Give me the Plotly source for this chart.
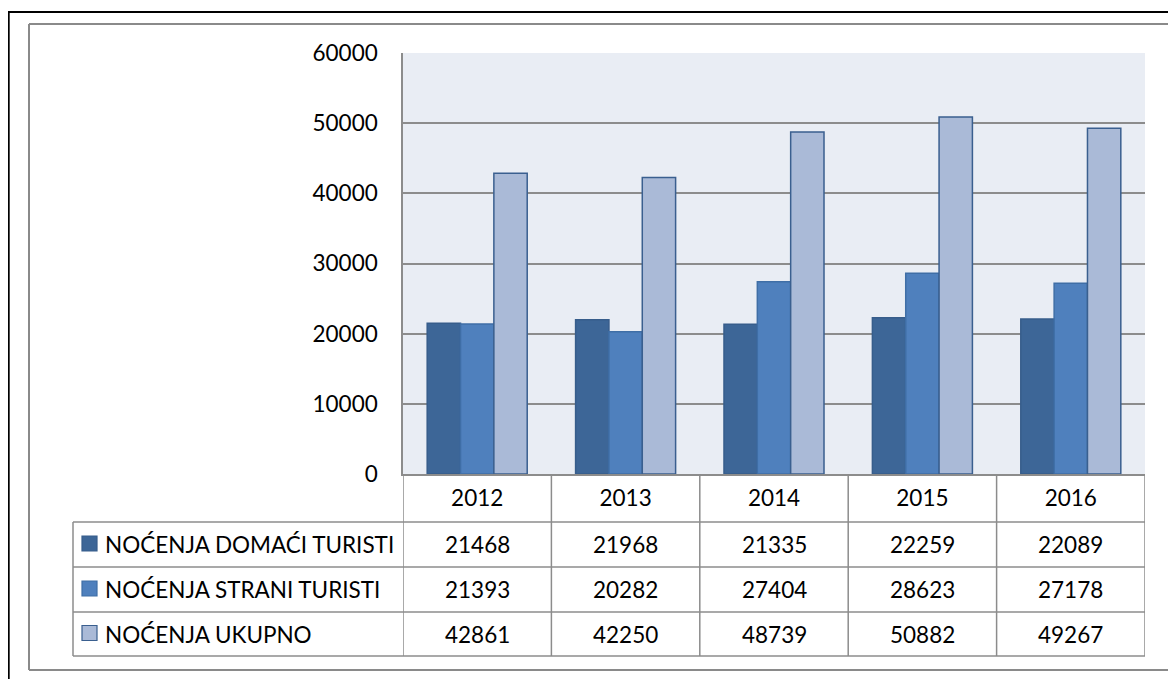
import plotly.graph_objects as go

# ---------------- data ----------------
years = ["2012", "2013", "2014", "2015", "2016"]
series_names = ["NOĆENJA DOMAĆI TURISTI", "NOĆENJA STRANI TURISTI", "NOĆENJA UKUPNO"]
domaci = [21468, 21968, 21335, 22259, 22089]
strani = [21393, 20282, 27404, 28623, 27178]
ukupno = [42861, 42250, 48739, 50882, 49267]
y_ticks = [0, 10000, 20000, 30000, 40000, 50000, 60000]

series_values = [domaci, strani, ukupno]
fill_colors = ["#3d6697", "#4f80bd", "#aabad7"]
edge_colors = ["#375d8b", "#3f6ea6", "#3a5f8f"]

# the page body has an 8px margin; the figure is sized to fill the rest of the window
OFF = 8
W, H = 1176 - OFF, 679 - OFF
FONT = "Lato"
FS = 22.5
GRID = "#8c8c8c"

# helpers: window pixel -> paper fraction
def fx(px):
    return (px - OFF) / W

def fy(py):
    return 1 - (py - OFF) / H

PLOT_L, PLOT_R, PLOT_T, PLOT_B = 403, 1145, 53, 474
ROW_LINES = [522, 567, 612, 656]
TABLE_L = 73

fig = go.Figure()
for name, vals, fc, ec in zip(series_names, series_values, fill_colors, edge_colors):
    fig.add_trace(go.Bar(
        x=years, y=vals, name=name,
        marker=dict(color=fc, line=dict(color=ec, width=1.5)),
        showlegend=False,
    ))

shapes = []
annotations = []

# outer borders
shapes.append(dict(type="line", xref="paper", yref="paper", x0=fx(8.6), x1=fx(1180), y0=fy(12), y1=fy(12),
                   line=dict(color="black", width=2.2)))
shapes.append(dict(type="line", xref="paper", yref="paper", x0=fx(8.6), x1=fx(8.6), y0=fy(11), y1=fy(685),
                   line=dict(color="black", width=2.2)))
for (x0, y0, x1, y1) in [(29, 24, 1170, 24), (29, 24, 29, 670), (29, 670, 1170, 670)]:
    shapes.append(dict(type="line", xref="paper", yref="paper", x0=fx(x0), x1=fx(x1), y0=fy(y0), y1=fy(y1),
                       line=dict(color="#8a8a8a", width=2)))

# data table horizontal lines
for ry in ROW_LINES:
    shapes.append(dict(type="line", xref="paper", yref="paper", x0=fx(TABLE_L), x1=fx(PLOT_R), y0=fy(ry), y1=fy(ry),
                       line=dict(color=GRID, width=1.5)))
# table vertical lines (category boundaries through the axis scale)
for i in range(len(years) + 1):
    shapes.append(dict(type="line", xref="x", yref="paper", x0=i - 0.5, x1=i - 0.5,
                       y0=fy(PLOT_B), y1=fy(ROW_LINES[-1]), line=dict(color=GRID, width=1.5)))
shapes.append(dict(type="line", xref="paper", yref="paper", x0=fx(TABLE_L), x1=fx(TABLE_L),
                   y0=fy(ROW_LINES[0]), y1=fy(ROW_LINES[-1]), line=dict(color=GRID, width=1.5)))

# legend keys + names + values
for r, (name, vals, fc, ec) in enumerate(zip(series_names, series_values, fill_colors, edge_colors)):
    top, bot = ROW_LINES[r], ROW_LINES[r + 1]
    cy = (top + bot) / 2
    shapes.append(dict(type="rect", xref="paper", yref="paper", x0=fx(82), x1=fx(97),
                       y0=fy(cy - 8.5), y1=fy(cy + 6.5), fillcolor=fc, line=dict(color=ec, width=1.2)))
    annotations.append(dict(xref="paper", yref="paper", x=fx(103), y=fy(cy), text=name, showarrow=False,
                            xanchor="left", yanchor="middle", font=dict(family=FONT, size=FS, color="black")))
    for i, v in enumerate(vals):
        annotations.append(dict(xref="x", yref="paper", x=i, y=fy(cy), text=str(v), showarrow=False,
                                xanchor="center", yanchor="middle",
                                font=dict(family=FONT, size=FS, color="black")))

fig.update_layout(
    width=W, height=H, autosize=False,
    margin=dict(l=0, r=0, t=0, b=0, pad=0),
    paper_bgcolor="white", plot_bgcolor="#e9edf4",
    barmode="group", bargap=0.326, bargroupgap=0,
    shapes=shapes, annotations=annotations,
    font=dict(family=FONT, size=FS, color="black"),
    xaxis=dict(domain=[fx(PLOT_L), fx(PLOT_R)], type="category", range=[-0.5, len(years) - 0.5],
               showgrid=False, automargin=False,
               showline=True, linecolor=GRID, linewidth=1.5, ticks="",
               tickfont=dict(family=FONT, size=FS, color="black"), ticklabelstandoff=3),
    yaxis=dict(domain=[fy(PLOT_B), fy(PLOT_T)], range=[0, 60000], tickvals=y_ticks, automargin=False,
               ticktext=[str(t) for t in y_ticks], showgrid=True, gridcolor=GRID, gridwidth=1.5,
               zeroline=False, showline=True, linecolor=GRID, linewidth=1.5, ticks="",
               tickfont=dict(family=FONT, size=FS, color="black"), ticklabelstandoff=19),
)

fig.write_html("out.html")
